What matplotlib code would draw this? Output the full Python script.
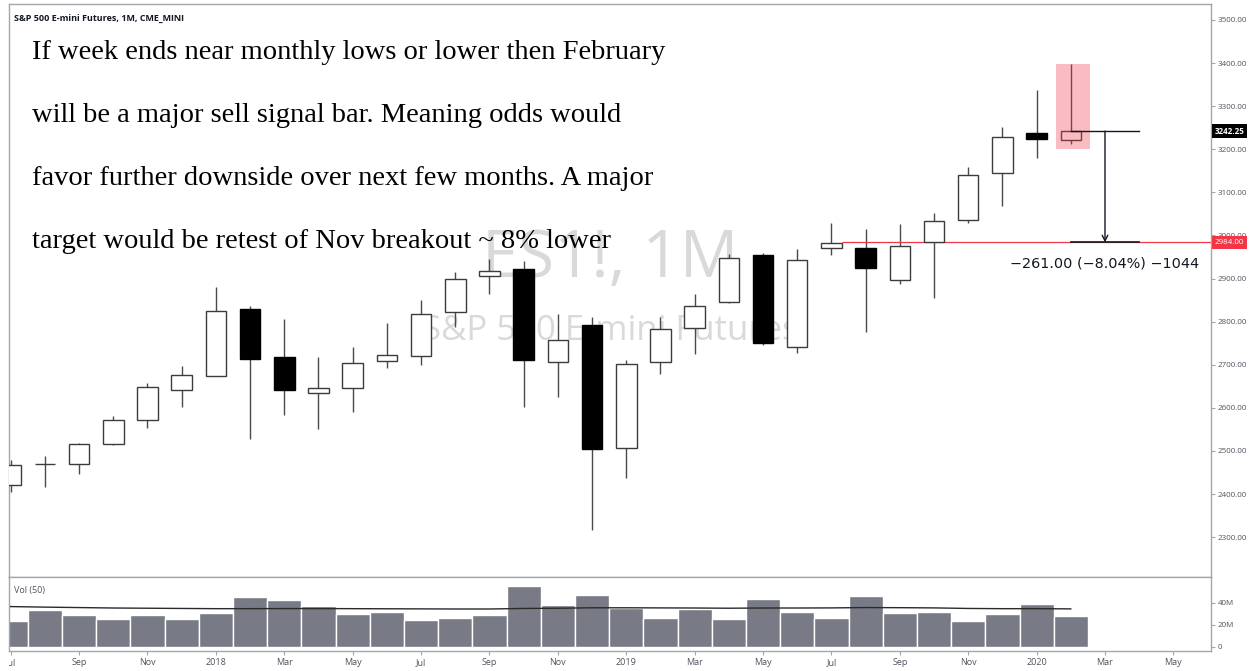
import numpy as np
import matplotlib
matplotlib.use("Agg")
import matplotlib.pyplot as plt
from matplotlib.patches import Rectangle
from matplotlib.transforms import blended_transform_factory, Bbox

# monthly bars, Jul 2017 .. Feb 2020
opens = [2421, 2469, 2470, 2516, 2573, 2641, 2675, 2829, 2718, 2634, 2646, 2708,
         2721, 2823, 2906, 2922, 2706, 2792, 2506, 2707, 2785, 2845, 2955, 2741,
         2970, 2970, 2897, 2984, 3036, 3146, 3237, 3222]
highs = [2479, 2489, 2518, 2582, 2658, 2698, 2880, 2837, 2807, 2718, 2741, 2796,
         2850, 2916, 2945, 2941, 2818, 2812, 2711, 2812, 2864, 2956, 2959, 2968,
         3030, 3014, 3026, 3053, 3159, 3252, 3337, 3398]
lows = [2405, 2416, 2446, 2515, 2554, 2603, 2673, 2528, 2584, 2550, 2590, 2693,
        2700, 2788, 2864, 2603, 2626, 2317, 2438, 2679, 2725, 2844, 2746, 2727,
        2955, 2776, 2887, 2855, 3030, 3068, 3180, 3212]
closes = [2468, 2470, 2516, 2573, 2648, 2676, 2825, 2714, 2642, 2646, 2704, 2722,
          2817, 2900, 2918, 2711, 2757, 2505, 2702, 2784, 2836, 2948, 2751, 2943,
          2982, 2925, 2976, 3034, 3140, 3229, 3223, 3242.25]
volume = [23, 33.3, 29, 25.4, 28.5, 25.4, 30.3, 44.8, 42.4, 37, 29.7, 31.5,
          24.2, 26, 29, 55, 38, 47.3, 35, 26, 34, 24.8, 43.3, 32,
          26, 46, 30.5, 32, 23.6, 29.4, 38.5, 27.5]
vol_ma = [36.5, 36.0, 35.6, 35.2, 35.0, 34.8, 34.6, 34.6, 34.7, 34.7, 34.6, 34.5,
          34.4, 34.3, 34.3, 34.8, 35.0, 35.4, 35.4, 35.3, 35.2, 35.0, 35.2, 35.2,
          35.3, 35.6, 35.5, 35.3, 34.8, 34.6, 34.6, 34.4]
month_ticks = [0, 2, 4, 6, 8, 10, 12, 14, 16, 18, 20, 22, 24, 26, 28, 30, 32, 34]
month_labels = ["Jul", "Sep", "Nov", "2018", "Mar", "May", "Jul", "Sep", "Nov", "2019",
                "Mar", "May", "Jul", "Sep", "Nov", "2020", "Mar", "May"]
price_ticks = list(range(2300, 3501, 100))

last_price = 3242.25
target = 2984.0
note = ["If week ends near monthly lows or lower then February",
        "will be a major sell signal bar. Meaning odds would",
        "favor further downside over next few months. A major",
        "target would be retest of Nov breakout ~ 8% lower"]

W, H = 1252, 671
fig = plt.figure(figsize=(W / 100, H / 100), dpi=100)
fig.patch.set_facecolor("white")

def fx(px):
    return px / W

def fy(py):
    return 1 - py / H

axc = "#a3a6ad"
lblc = "#50535e"
small = dict(family="Open Sans", size=5.8)

ax = fig.add_axes([fx(9), fy(577), fx(1211) - fx(9), fy(4) - fy(577)])
axv = fig.add_axes([fx(9), fy(651), fx(1211) - fx(9), fy(577) - fy(651)], sharex=ax)

x = np.arange(len(opens))
o = np.array(opens); c = np.array(closes); h = np.array(highs); l = np.array(lows)
up = c >= o

# wicks
ax.vlines(x, l, h, color="#4a4a4a", lw=1, zorder=2)
bottoms = np.minimum(o, c)
heights = np.maximum(np.abs(c - o), 1.0)
ax.bar(x[up], heights[up], bottom=bottoms[up], width=0.6, color="white",
       edgecolor="#3c3c3c", lw=1, zorder=3)
ax.bar(x[~up], heights[~up], bottom=bottoms[~up], width=0.6, color="black",
       edgecolor="black", lw=1, zorder=3)

# watermark
ax.text(0.5, 0.553, "ES1!, 1M", transform=ax.transAxes, ha="center", va="center",
        fontsize=47, color="#d9d9d9", family="Open Sans", zorder=0)
ax.text(0.5, 0.429, "S&P 500 E-mini Futures", transform=ax.transAxes, ha="center",
        va="center", fontsize=25, color="#d9d9d9", family="Open Sans", zorder=0)

# highlight on Feb bar
ax.add_patch(Rectangle((30.56, 3200), 1.0, 198, facecolor="#f23645", alpha=0.33,
                       lw=0, zorder=4))

# target line + measure
ax.hlines(target, 24.3, 35.2, color="#f23645", lw=0.9, zorder=2)
ax.plot([31, 33], [last_price, last_price], color="#131722", lw=1, zorder=5)
ax.plot([31, 33], [target, target], color="#131722", lw=1.2, zorder=5)
ax.annotate("", xy=(32, target), xytext=(32, last_price),
            arrowprops=dict(arrowstyle="->", color="#131722", lw=1,
                            shrinkA=0, shrinkB=0), zorder=5)
ax.text(32, 2936, "\u2212261.00 (\u22128.04%) \u22121044", ha="center", va="center",
        fontsize=10.4, color="#131722", zorder=5)

ax.set_xlim(-0.05, 35.1)
ax.set_ylim(2207.6, 3537.1)
ax.yaxis.tick_right()
ax.set_yticks(price_ticks)
ax.set_yticklabels([f"{v:.2f}" for v in price_ticks], fontdict=small)
ax.tick_params(axis="y", colors=axc, labelcolor=lblc, length=3, width=0.8, pad=2)
ax.tick_params(axis="x", bottom=False, labelbottom=False)
for s in ax.spines.values():
    s.set_color(axc)
    s.set_linewidth(1)

# axis price labels
tr = blended_transform_factory(ax.transAxes, ax.transData)
ax.text(1.003, last_price, "3242.25", transform=tr, ha="left", va="center",
        color="white", clip_on=False, zorder=10, weight="bold", **small,
        bbox=dict(boxstyle="square,pad=0.35", fc="black", ec="none"))
ax.text(1.003, target, "2984.00", transform=tr, ha="left", va="center",
        color="white", clip_on=False, zorder=10, **small,
        bbox=dict(boxstyle="square,pad=0.35", fc="#f23645", ec="none"))

# volume panel
axv.bar(x, volume, width=1.0, color="#787b86", edgecolor="white", lw=1, zorder=2)
axv.plot(x, vol_ma, color="#2a2a2a", lw=1, zorder=3)
axv.set_ylim(-3.9, 63.4)
axv.yaxis.tick_right()
axv.set_yticks([0, 20, 40])
axv.set_yticklabels(["0", "20M", "40M"], fontdict=small)
axv.tick_params(axis="y", colors=axc, labelcolor=lblc, length=3, width=0.8, pad=2)
axv.set_xticks(month_ticks)
axv.set_xticklabels(month_labels, fontdict=dict(family="Open Sans", size=6.5))
axv.tick_params(axis="x", colors=axc, labelcolor=lblc, length=3, width=0.8, pad=2)
for s in axv.spines.values():
    s.set_color(axc)
    s.set_linewidth(1)
axv.text(0.004, 0.82, "Vol (50)", transform=axv.transAxes, ha="left", va="center",
         fontsize=6.5, color=lblc, family="Open Sans")
first = axv.get_xticklabels()[0]
first.set_clip_box(Bbox([[9, 0], [W, H]]))
first.set_clip_on(True)

# header and note
fig.text(fx(14), fy(18), "S&P 500 E-mini Futures, 1M, CME_MINI", ha="left",
         va="center", fontsize=6.5, color="#131722", family="Open Sans",
         weight="bold")
for k, line in enumerate(note):
    fig.text(fx(32), fy(59 + 63 * k), line, ha="left", va="baseline",
             fontsize=20.5, color="black", family="Liberation Serif")

fig.savefig("out.png", dpi=100)
